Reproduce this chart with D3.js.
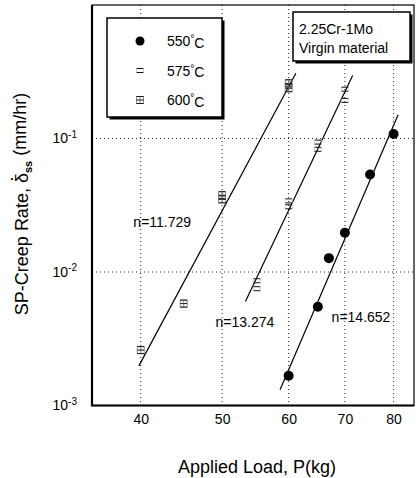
<!DOCTYPE html>
<html>
<head>
<meta charset="utf-8">
<script src="https://cdn.jsdelivr.net/npm/d3@7"></script>
<style>
  body { margin: 0; background: #fff; }
  svg { display: block; font-family: 'Liberation Sans', Arial, sans-serif; }
</style>
</head>
<body>
<svg id="chart" width="417" height="478"></svg>
<script>
// ---- data ----
const xTicks = [40, 50, 60, 70, 80]
const yTicks = [1e-3, 1e-2, 1e-1]
const yGrid = [1e-2, 1e-1]

// [load (kg), SP creep rate (mm/hr)]
const pts550 = [[60, 0.00167], [65, 0.0055], [67, 0.0127], [70, 0.0197], [75, 0.0538], [80, 0.108]]
const pts575 = [[55, 0.0086], [55, 0.0075], [60, 0.0341], [60, 0.0308], [65, 0.094], [65, 0.083], [70, 0.234], [70, 0.193]]
const pts600 = [[40, 0.0026], [45, 0.0058], [50, 0.0376], [50, 0.035], [60, 0.259], [60, 0.238]]

// power-law fits: rate = r0 * (P / p0)^n, drawn from p0 to p1
const fitTemps = ['550', '575', '600']
const fitN = [14.652, 13.274, 11.729]
const fitP0 = [58.6, 53.3, 39.8]
const fitR0 = [0.00131, 0.0060, 0.00198]
const fitP1 = [81, 71.5, 61.2]

// where the n= labels sit (load, rate)
const nLabelAt = [[67.5, 0.00422], [49.1, 0.00387], [39.2, 0.0217]]

const legendLabels = ['550°C', '575°C', '600°C']

// ---- layout ----
const svg = d3.select('#chart')
const plot = { left: 92, top: 5, right: 414, bottom: 405.5 }

const x = d3.scaleLog().domain([35, 84.6]).range([plot.left, plot.right])
const y = d3.scaleLog().domain([1e-3, 1]).range([plot.bottom, plot.top])

// grid (dotted)
svg.append('g').selectAll('line.vg').data(xTicks).join('line')
  .attr('x1', d => x(d)).attr('x2', d => x(d))
  .attr('y1', plot.top).attr('y2', plot.bottom)
  .attr('stroke', '#222').attr('stroke-width', 1).attr('stroke-dasharray', '1,3')
svg.append('g').selectAll('line.hg').data(yGrid).join('line')
  .attr('x1', plot.left).attr('x2', plot.right)
  .attr('y1', d => y(d)).attr('y2', d => y(d))
  .attr('stroke', '#222').attr('stroke-width', 1).attr('stroke-dasharray', '1,3')

// frame
svg.append('rect')
  .attr('x', plot.left).attr('y', plot.top)
  .attr('width', plot.right - plot.left).attr('height', plot.bottom - plot.top)
  .attr('fill', 'none').attr('stroke', '#000').attr('stroke-width', 1.2)
svg.append('path')
  .attr('d', `M${plot.left},${plot.top}V${plot.bottom}H${plot.right}`)
  .attr('fill', 'none').attr('stroke', '#000').attr('stroke-width', 2.2)

// axes
const xAxis = svg.append('g')
  .attr('transform', `translate(0,${plot.bottom})`)
  .call(d3.axisBottom(x).tickValues(xTicks).tickSize(0).tickPadding(9).tickFormat(d => d))
xAxis.select('.domain').remove()
xAxis.selectAll('text').attr('font-size', 14).attr('fill', '#000')
  .attr('font-family', "'Liberation Sans', Arial, sans-serif")

const yAxis = svg.append('g')
  .attr('transform', `translate(${plot.left},0)`)
  .call(d3.axisLeft(y).tickValues(yTicks).tickSize(0).tickPadding(15).tickFormat(() => ''))
yAxis.select('.domain').remove()
yAxis.selectAll('text')
  .attr('font-size', 14).attr('fill', '#000')
  .attr('font-family', "'Liberation Sans', Arial, sans-serif")
  .each(function (d) {
    const t = d3.select(this)
    t.append('tspan').text('10')
    t.append('tspan').text(Math.round(Math.log10(d)))
      .attr('font-size', 10).attr('dy', '-0.55em')
  })

// fit lines
const fitData = fitTemps.map((t, i) => ({ t, n: fitN[i], p0: fitP0[i], r0: fitR0[i], p1: fitP1[i] }))
svg.append('g').selectAll('line.fit').data(fitData).join('line')
  .attr('x1', d => x(d.p0)).attr('y1', d => y(d.r0))
  .attr('x2', d => x(d.p1)).attr('y2', d => y(d.r0 * Math.pow(d.p1 / d.p0, d.n)))
  .attr('stroke', '#000').attr('stroke-width', 1.2)

// markers
function mark575(g) {
  g.append('line').attr('x1', -3.5).attr('x2', 3.5).attr('y1', -2).attr('y2', -2).attr('stroke', '#111').attr('stroke-width', 1)
  g.append('line').attr('x1', -3.5).attr('x2', 3.5).attr('y1', 2).attr('y2', 2).attr('stroke', '#111').attr('stroke-width', 1)
  g.append('line').attr('x1', -3.5).attr('x2', -3.5).attr('y1', -2).attr('y2', 2).attr('stroke', '#bbb').attr('stroke-width', 0.7)
  g.append('line').attr('x1', 3.5).attr('x2', 3.5).attr('y1', -2).attr('y2', 2).attr('stroke', '#bbb').attr('stroke-width', 0.7)
}
function mark600(g) {
  g.append('rect').attr('x', -3.5).attr('y', -3.5).attr('width', 7).attr('height', 7)
    .attr('fill', 'none').attr('stroke', '#777').attr('stroke-width', 0.8)
  g.append('line').attr('x1', -3.5).attr('x2', 3.5).attr('y1', 0).attr('y2', 0).attr('stroke', '#111').attr('stroke-width', 1)
  g.append('line').attr('x1', -3.5).attr('x2', 3.5).attr('y1', -3.5).attr('y2', -3.5).attr('stroke', '#111').attr('stroke-width', 1)
  g.append('line').attr('x1', -3.5).attr('x2', 3.5).attr('y1', 3.5).attr('y2', 3.5).attr('stroke', '#111').attr('stroke-width', 1)
  g.append('line').attr('x1', 0).attr('x2', 0).attr('y1', -3.5).attr('y2', 3.5).attr('stroke', '#666').attr('stroke-width', 0.8)
}

svg.append('g').selectAll('circle').data(pts550).join('circle')
  .attr('cx', d => x(d[0])).attr('cy', d => y(d[1])).attr('r', 5).attr('fill', '#000')
svg.append('g').selectAll('g').data(pts575).join('g')
  .attr('transform', d => `translate(${x(d[0])},${y(d[1])})`)
  .each(function () { mark575(d3.select(this)) })
svg.append('g').selectAll('g').data(pts600).join('g')
  .attr('transform', d => `translate(${x(d[0])},${y(d[1])})`)
  .each(function () { mark600(d3.select(this)) })

// n = labels
svg.append('g').selectAll('text').data(fitN).join('text')
  .attr('x', (d, i) => x(nLabelAt[i][0])).attr('y', (d, i) => y(nLabelAt[i][1]))
  .attr('font-size', 14).attr('fill', '#000')
  .text(d => 'n=' + d.toFixed(3))

// legend box
const lg = svg.append('g').attr('transform', 'translate(107,18)')
lg.append('rect').attr('x', 2.5).attr('y', 2.5).attr('width', 115).attr('height', 99).attr('fill', '#000')
lg.append('rect').attr('width', 115).attr('height', 99).attr('fill', '#fff').attr('stroke', '#000').attr('stroke-width', 1.5)
legendLabels.forEach((lab, i) => {
  const row = lg.append('g').attr('transform', `translate(33,${23 + i * 29.5})`)
  if (i === 0) row.append('circle').attr('r', 4.5).attr('fill', '#000')
  if (i === 1) mark575(row)
  if (i === 2) mark600(row)
  const t = row.append('text').attr('x', 27).attr('y', 5).attr('font-size', 14).attr('fill', '#000')
  t.append('tspan').text(lab.replace('°C', ''))
  t.append('tspan').text('°').attr('font-size', 10).attr('dy', '-0.4em')
  t.append('tspan').text('C').attr('dy', '0.4em').attr('font-size', 14)
})

// material box
const mb = svg.append('g').attr('transform', 'translate(293,12)')
mb.append('rect').attr('x', 2.5).attr('y', 2.5).attr('width', 117).attr('height', 49).attr('fill', '#000')
mb.append('rect').attr('width', 117).attr('height', 49).attr('fill', '#fff').attr('stroke', '#000').attr('stroke-width', 1.5)
mb.append('text').attr('x', 6).attr('y', 22).attr('font-size', 14).attr('fill', '#000').text('2.25Cr-1Mo')
mb.append('text').attr('x', 6).attr('y', 41).attr('font-size', 14).attr('fill', '#000').text('Virgin material')

// axis titles
svg.append('text')
  .attr('x', 257).attr('y', 473).attr('text-anchor', 'middle')
  .attr('font-size', 18).attr('fill', '#000')
  .text('Applied Load, P(kg)')

const ytg = svg.append('g').attr('transform', 'translate(28,204) rotate(-90)')
const yt = ytg.append('text')
  .attr('text-anchor', 'middle').attr('font-size', 18).attr('fill', '#000')
yt.append('tspan').text('SP-Creep Rate, \u03B4')
yt.append('tspan').text('ss').attr('font-size', 11).attr('font-weight', 'bold').attr('dy', '0.35em')
yt.append('tspan').text(' (mm/hr)').attr('dy', '-0.35em')

// dot over the delta (rate symbol)
const dIdx = 'SP-Creep Rate, '.length
const dPos = yt.node().getStartPositionOfChar(dIdx)
const dEnd = yt.node().getEndPositionOfChar(dIdx)
ytg.append('circle')
  .attr('cx', (dPos.x + dEnd.x) / 2 - 1).attr('cy', dPos.y - 16)
  .attr('r', 1.1).attr('fill', '#000')
</script>
</body>
</html>
